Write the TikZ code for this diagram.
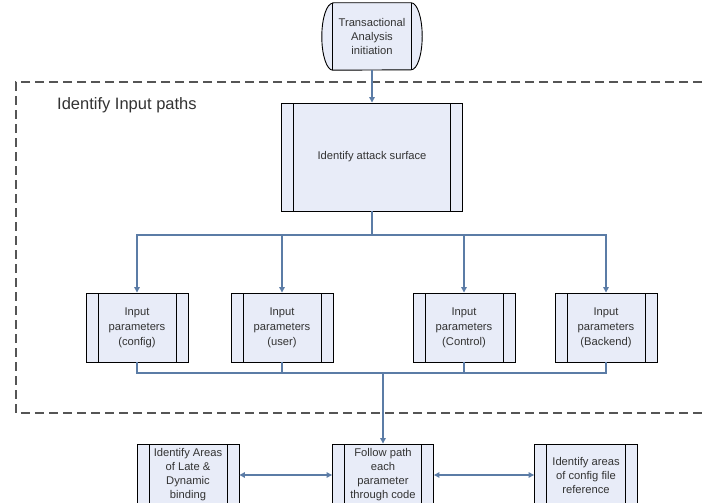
\documentclass[tikz,border=0pt]{standalone}
\usepackage{fontspec}
\setmainfont{Liberation Sans}
\usetikzlibrary{arrows.meta}
\definecolor{boxfill}{HTML}{E8ECF8}
\definecolor{conn}{HTML}{5B7CA6}
\definecolor{dashc}{HTML}{555555}
\definecolor{txt}{HTML}{333333}
\tikzset{
  proc/.style={draw=black, fill=boxfill, line width=0.9pt, align=center, inner sep=0pt,
    text=txt, font=\fontsize{11.2}{15}\selectfont,
    path picture={
      \draw[line width=0.9pt] ([xshift=12pt]path picture bounding box.north west) -- ([xshift=12pt]path picture bounding box.south west);
      \draw[line width=0.9pt] ([xshift=-12pt]path picture bounding box.north east) -- ([xshift=-12pt]path picture bounding box.south east);}},
  lowproc/.style={proc, font=\fontsize{11.2}{14}\selectfont},
  conline/.style={draw=conn, line width=1.2pt},
  conarrow/.style={conline, -{Triangle[width=5.5pt,length=5.5pt]}},
  dblarrow/.style={conline, {Triangle[width=5.5pt,length=5.5pt]}-{Triangle[width=5.5pt,length=5.5pt]}},
  regionbox/.style={draw=dashc, line width=1.5pt, dash pattern=on 9pt off 5pt},
}
\begin{document}
\begin{tikzpicture}[x=1pt, y=-1pt]
\useasboundingbox (0,0) rectangle (704,503);
\clip (0,0) rectangle (704,503);
\fill[white] (0,0) rectangle (704,503);

% region
\draw[regionbox] (730,82) -- (16,82) -- (16,413) -- (730,413);
\node[anchor=west, text=txt, font=\fontsize{16.5}{18}\selectfont, inner sep=0pt] (regionlabel) at (57,105) {Identify Input paths};

% terminal
\node[minimum width=78pt, minimum height=67pt, inner sep=0pt] (init) at (372,36.5) {};
\draw[fill=boxfill, line width=0.9pt] (init.north west) -- (init.north east)
  arc[start angle=90, end angle=-90, x radius=11pt, y radius=33.5pt]
  -- (init.south west)
  arc[start angle=270, end angle=90, x radius=11pt, y radius=33.5pt] -- cycle;
\draw[line width=0.9pt] (init.north west) -- (init.south west);
\draw[line width=0.9pt] (init.north east) -- (init.south east);
\node[align=center, text=txt, font=\fontsize{11.2}{14}\selectfont] (inittext) at (init.center) {Transactional\\Analysis\\initiation};

% attack surface
\node[proc, minimum width=181pt, minimum height=108pt] (attack) at (372,157) {Identify attack surface};

% inputs
\node[proc, minimum width=102pt, minimum height=69pt] (in1) at (137,327.5) {Input\\parameters\\(config)};
\node[proc, minimum width=102pt, minimum height=69pt] (in2) at (282,327.5) {Input\\parameters\\(user)};
\node[proc, minimum width=102pt, minimum height=69pt] (in3) at (464,327.5) {Input\\parameters\\(Control)};
\node[proc, minimum width=102pt, minimum height=69pt] (in4) at (606,327.5) {Input\\parameters\\(Backend)};

% bottom
\node[lowproc, minimum width=102pt, minimum height=62pt] (late) at (188,475) {Identify Areas\\of Late \&\\Dynamic\\binding};
\node[lowproc, minimum width=101pt, minimum height=62pt] (follow) at (383,475) {Follow path\\each\\parameter\\through code};
\node[lowproc, minimum width=103pt, minimum height=62pt] (config) at (586,475) {Identify areas\\of config file\\reference};

% connectors
\draw[conarrow] (init.south) -- (attack.north);
\coordinate (split) at (372,235);
\draw[conline] (attack.south) -- (split);
\draw[conarrow] (split) -| (in1.north);
\draw[conarrow] (split) -| (in2.north);
\draw[conarrow] (split) -| (in3.north);
\draw[conarrow] (split) -| (in4.north);
\coordinate (merge) at (383,373);
\draw[conline] (in1.south) |- (merge);
\draw[conline] (in2.south) |- (merge);
\draw[conline] (in3.south) |- (merge);
\draw[conline] (in4.south) |- (merge);
\draw[conarrow] (merge) -- (follow.north);
\draw[dblarrow] (late.east) -- (follow.west);
\draw[dblarrow] (follow.east) -- (config.west);
\end{tikzpicture}
\end{document}
